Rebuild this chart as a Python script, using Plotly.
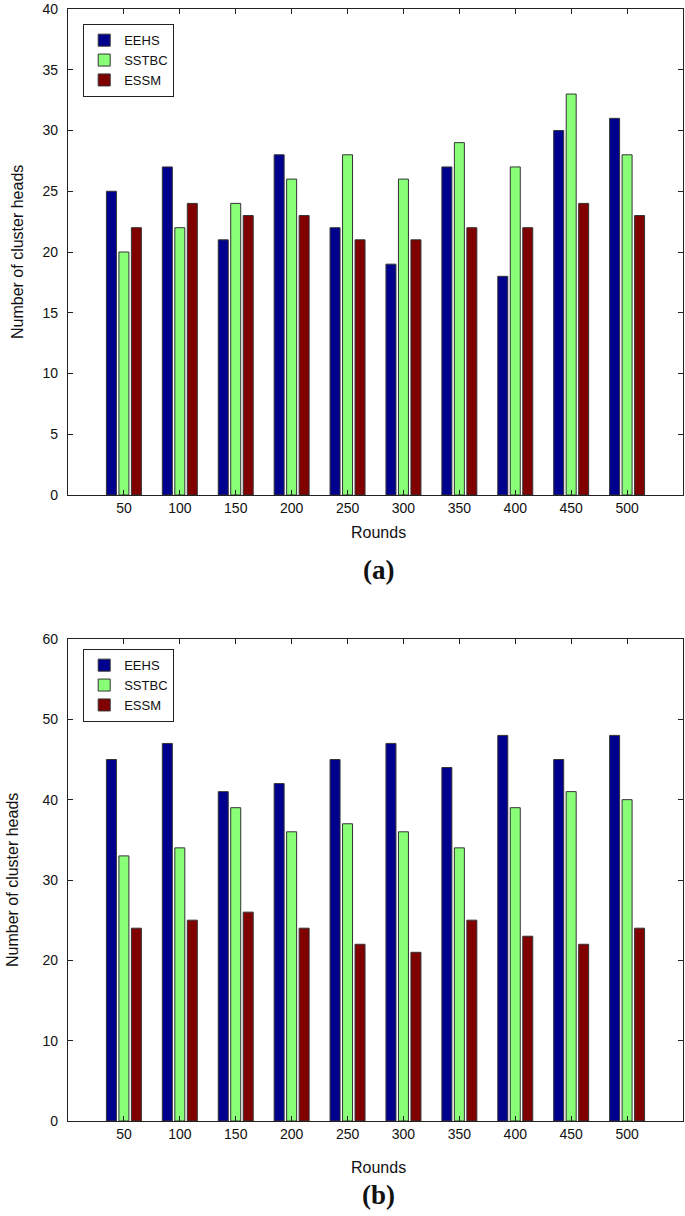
import plotly.graph_objects as go
from plotly.subplots import make_subplots

rounds = [50, 100, 150, 200, 250, 300, 350, 400, 450, 500]
series_names = ["EEHS", "SSTBC", "ESSM"]
colors = ["#00008F", "#88FF77", "#800000"]

a_eehs = [25, 27, 21, 28, 22, 19, 27, 18, 30, 31]
a_sstbc = [20, 22, 24, 26, 28, 26, 29, 27, 33, 28]
a_essm = [22, 24, 23, 23, 21, 21, 22, 22, 24, 23]

b_eehs = [45, 47, 41, 42, 45, 47, 44, 48, 45, 48]
b_sstbc = [33, 34, 39, 36, 37, 36, 34, 39, 41, 40]
b_essm = [24, 25, 26, 24, 22, 21, 25, 23, 22, 24]

fig = make_subplots(rows=2, cols=1)

W, H = 685, 1216
ml, mr, mt, mb = 68, 2, 9, 95
ph = H - mt - mb
pw = W - ml - mr

def py(px):
    return 1 - (px - mt) / ph

def pxx(px):
    return (px - ml) / pw

for vals, name, col in zip([a_eehs, a_sstbc, a_essm], series_names, colors):
    fig.add_trace(go.Bar(x=rounds, y=vals, name=name, marker_color=col,
                         marker_line=dict(color="#333333", width=1),
                         legend="legend"), row=1, col=1)
for vals, name, col in zip([b_eehs, b_sstbc, b_essm], series_names, colors):
    fig.add_trace(go.Bar(x=rounds, y=vals, name=name, marker_color=col,
                         marker_line=dict(color="#333333", width=1),
                         legend="legend2"), row=2, col=1)

axis_common = dict(showline=True, linecolor="#222222", linewidth=1.3, mirror="ticks",
                   ticks="inside", ticklen=5, tickcolor="#222222", showgrid=False,
                   zeroline=False, automargin=False, tickfont=dict(size=14, color="#111111"))

fig.update_xaxes(range=[0, 550], tickvals=rounds, **axis_common)
fig.update_yaxes(**axis_common)
fig.update_yaxes(range=[0, 40], dtick=5, row=1, col=1, ticklabelstandoff=6)
fig.update_yaxes(range=[0, 60], dtick=10, row=2, col=1, ticklabelstandoff=6)

fig.update_layout(
    xaxis=dict(domain=[0, 1]), xaxis2=dict(domain=[0, 1]),
    yaxis=dict(domain=[py(495), 1]),
    yaxis2=dict(domain=[py(1121), py(639)]),
)

legend_common = dict(bgcolor="white", bordercolor="#222222", borderwidth=1.2,
                     font=dict(size=13, color="#111111"), xanchor="left", yanchor="top",
                     tracegroupgap=0, itemwidth=30)

title_font = dict(family="Liberation Sans, Arial, sans-serif", size=16, color="#111111")
serif_font = dict(family="Liberation Serif, Times New Roman, serif", size=27, color="#111111")

def ann(text, x, y, font, angle=0):
    return dict(text=text, x=pxx(x), y=py(y), xref="paper", yref="paper",
                xanchor="center", yanchor="middle", showarrow=False,
                textangle=angle, font=font)

fig.update_layout(
    width=W, height=H,
    margin=dict(l=ml, r=mr, t=mt, b=mb, autoexpand=False),
    paper_bgcolor="white", plot_bgcolor="white",
    font=dict(family="Liberation Sans, Arial, sans-serif"),
    barmode="group", bargap=0.33, bargroupgap=0.2,
    legend=dict(x=pxx(83), y=py(24), **legend_common),
    legend2=dict(x=pxx(83), y=py(649), **legend_common),
    annotations=[
        ann("Rounds", 378, 532, title_font),
        ann("Rounds", 378, 1167, title_font),
        ann("Number of cluster heads", 18, 252, title_font, -90),
        ann("Number of cluster heads", 12, 880, title_font, -90),
        ann("<b>(a)</b>", 378, 570, serif_font),
        ann("<b>(b)</b>", 378, 1195, serif_font),
    ],
)

fig.write_html("out.html", config={"displayModeBar": False},
               post_script="document.body.style.margin='0';document.body.style.overflow='hidden';")
